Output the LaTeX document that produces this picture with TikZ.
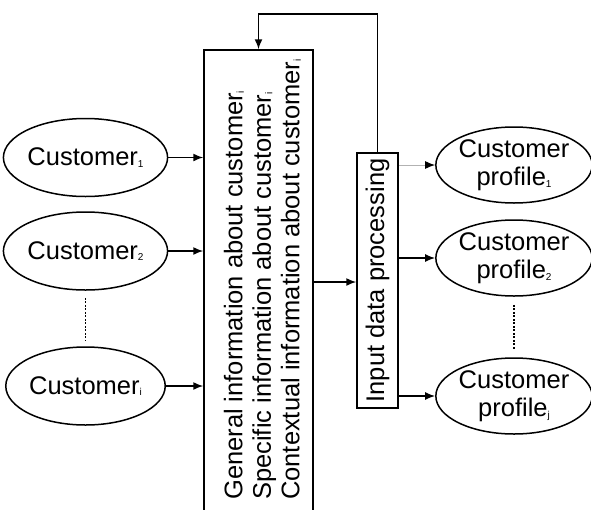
\documentclass[tikz,border=0pt]{standalone}
\usepackage{fontspec}
\setmainfont{Liberation Sans}
\usetikzlibrary{shapes.geometric,arrows.meta,calc}
\newcommand{\sbs}[1]{\raisebox{-1.5pt}{\fontsize{10}{10}\selectfont #1}}
\begin{document}
\begin{tikzpicture}[x=1pt,y=-1pt,
  every node/.style={font=\fontsize{25.5}{28.5}\selectfont},
  cust/.style={draw,ellipse,line width=1.5pt,minimum width=155pt,minimum height=78pt,inner sep=0pt,align=center},
  prof/.style={draw,ellipse,line width=1.5pt,minimum width=154pt,minimum height=76pt,inner sep=0pt,align=center},
  boxr/.style={draw,rectangle,line width=1.5pt,inner sep=0pt},
  conn/.style={line width=1.5pt,-{Latex[length=10pt,width=8pt]}},
  dots/.style={line width=1.2pt,dash pattern=on 2pt off 1.5pt}]
\useasboundingbox (0,0) rectangle (591,509);
\clip (0,0) rectangle (591,509);
% big info box
\node[boxr,minimum width=109pt,minimum height=464pt] (info) at (258.5,282) {};
\node[rotate=90,align=left,anchor=west,inner sep=0pt] (infotext) at (262.5,500)
  {General information about customer\sbs{i}\\Specific information about customer\sbs{i}\\Contextual information about customer\sbs{i}};
% processing box
\node[boxr,minimum width=41pt,minimum height=255pt] (proc) at (377.5,280.5) {};
\node[rotate=90] (proctext) at (proc.center) {Input data processing};
% customers
\node[cust] (c1) at (85.5,157.5) {Customer\sbs{1}};
\node[cust] (c2) at (85.5,251) {Customer\sbs{2}};
\node[cust] (ci) at (85.5,386) {Customer\sbs{i}};
% profiles
\node[prof] (p1) at (514,165) {Customer\\profile\sbs{1}};
\node[prof] (p2) at (514,258) {Customer\\profile\sbs{2}};
\node[prof] (pj) at (514,396) {Customer\\profile\sbs{j}};
% arrows
\draw[conn] (c1.east) -- (c1.east -| info.west);
\draw[conn] (c2.east) -- (c2.east -| info.west);
\draw[conn] (ci.east) -- (ci.east -| info.west);
\draw[conn] (info.east) -- (info.east -| proc.west);
\draw[line width=1pt,draw=black!30,-{Latex[length=10pt,width=8pt,color=black]}] (p1.west -| proc.east) -- (p1.west);
\draw[conn] (p2.west -| proc.east) -- (p2.west);
\draw[conn] (pj.west -| proc.east) -- (pj.west);
\coordinate (fb) at (258.5,14);
\draw[conn] (proc.north) |- (fb) -- (info.north);
% dotted
\coordinate (d1a) at ($(c2.south)+(0,7)$);
\coordinate (d1b) at ($(ci.north)+(0,-5)$);
\draw[dots] (d1a) -- (d1b);
\coordinate (d2a) at ($(p2.south)+(0,8)$);
\coordinate (d2b) at ($(pj.north)+(0,-8)$);
\draw[dots] (d2a) -- (d2b);
\end{tikzpicture}
\end{document}
